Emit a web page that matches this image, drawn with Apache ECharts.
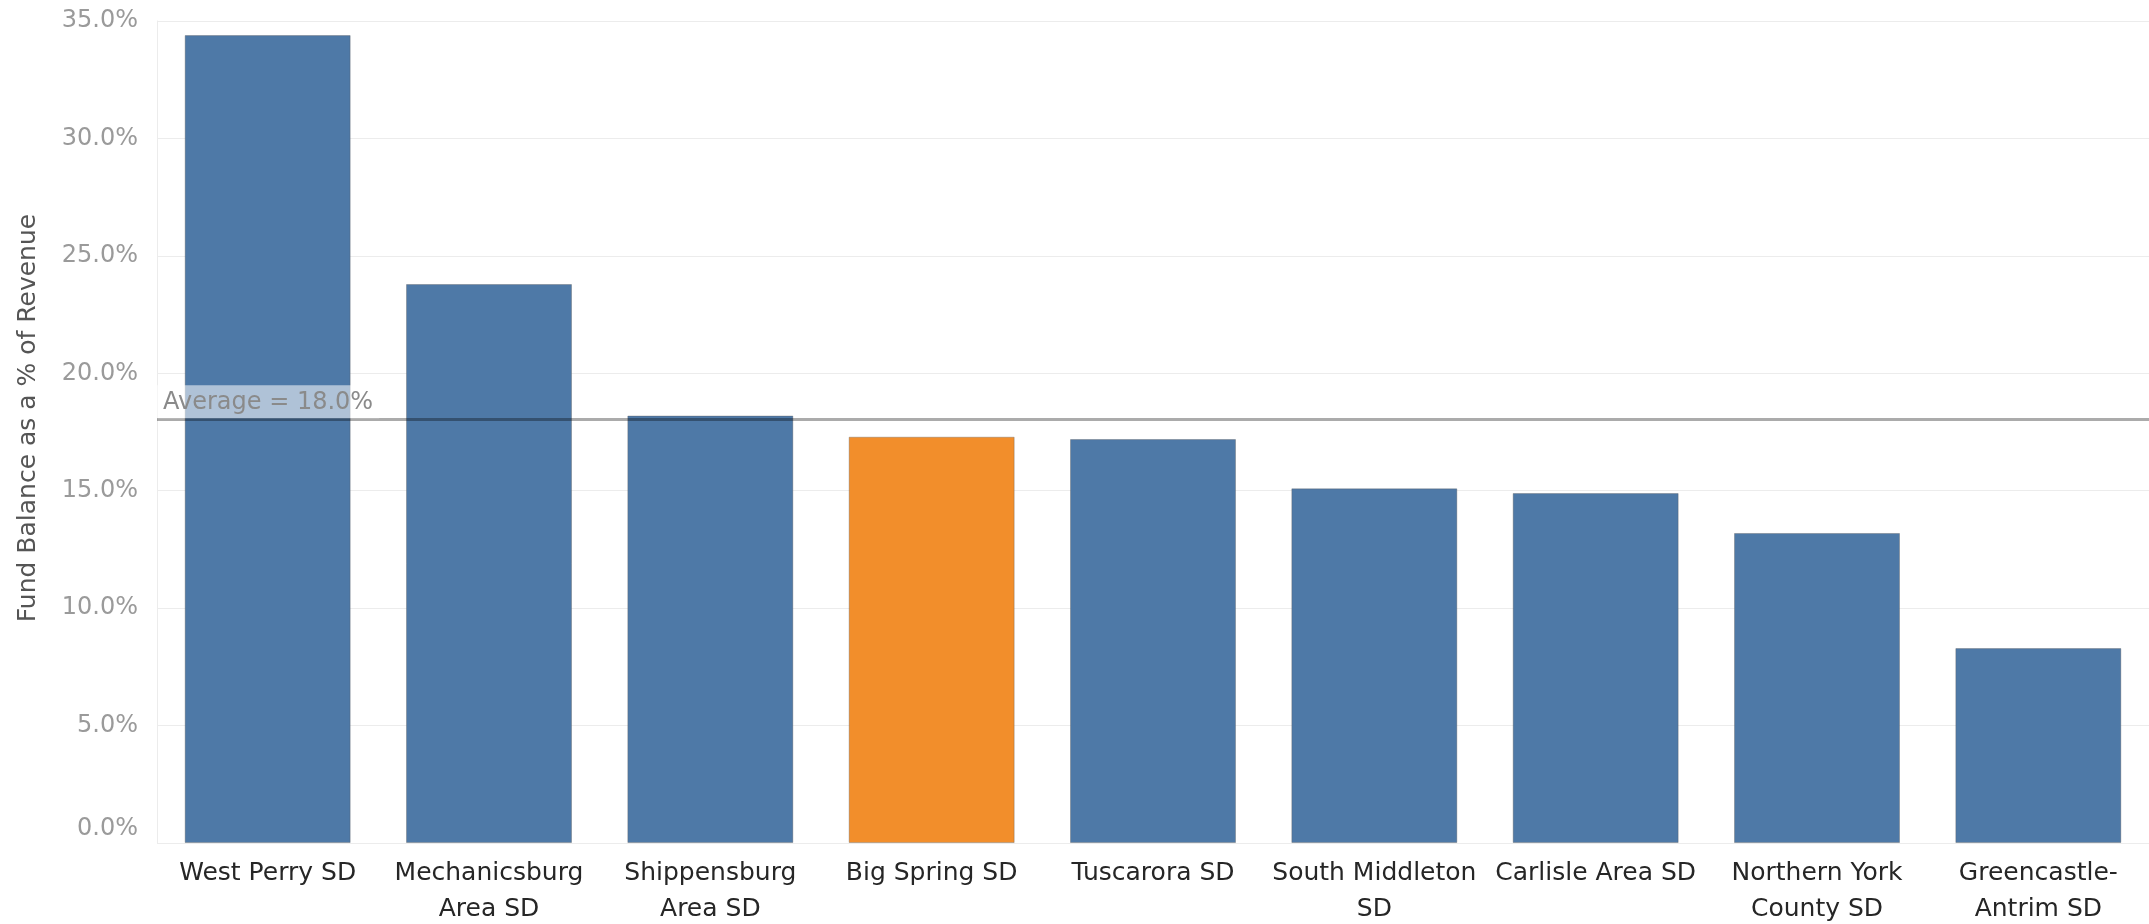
<!DOCTYPE html>
<html>
<head>
<meta charset="utf-8">
<script src="https://cdn.jsdelivr.net/npm/echarts@6/dist/echarts.min.js"></script>
<style>
html,body{margin:0;padding:0;background:#fff;}
#chart{width:2149px;height:924px;}
</style>
</head>
<body>
<div id="chart"></div>
<script>
const districts = ["West Perry SD","Mechanicsburg Area SD","Shippensburg Area SD","Big Spring SD","Tuscarora SD","South Middleton SD","Carlisle Area SD","Northern York County SD","Greencastle-Antrim SD"];
const tickLabels = ["West Perry SD","Mechanicsburg\nArea SD","Shippensburg\nArea SD","Big Spring SD","Tuscarora SD","South Middleton\nSD","Carlisle Area SD","Northern York\nCounty SD","Greencastle-\nAntrim SD"];
const fundBalancePct = [34.4, 23.8, 18.2, 17.3, 17.2, 15.1, 14.9, 13.2, 8.3];
const highlighted = "Big Spring SD";
const yTicks = [0, 5, 10, 15, 20, 25, 30, 35];

const FONT = "DejaVu Sans";
const chart = echarts.init(document.getElementById('chart'), null, {renderer: 'canvas'});
chart.setOption({
  animation: false,
  grid: {left: 157, right: 0, top: 21, bottom: 81, containLabel: false, outerBoundsMode: 'none'},
  xAxis: {
    type: 'category',
    data: districts,
    axisLine: {show: false},
    axisTick: {show: false},
    axisLabel: {
      interval: 0,
      margin: 12,
      color: '#262626',
      fontFamily: FONT,
      fontSize: 25,
      lineHeight: 36,
      formatter: (v, i) => tickLabels[i]
    }
  },
  yAxis: {
    type: 'value',
    min: yTicks[0],
    max: yTicks[yTicks.length - 1],
    interval: 5,
    name: 'Fund Balance as a % of Revenue',
    nameLocation: 'middle',
    nameGap: 116,
    nameTextStyle: {color: '#555', fontFamily: FONT, fontSize: 25, padding: [0, 0, 0, 28]},
    axisLine: {show: true, lineStyle: {color: '#ececec', width: 1}},
    axisTick: {show: false},
    splitLine: {lineStyle: {color: '#ececec', width: 1}},
    axisLabel: {
      margin: 19,
      color: '#9a9a9a',
      fontFamily: FONT,
      fontSize: 24,
      formatter: v => v === 0 ? '{z|' + v.toFixed(1) + '%}' : v.toFixed(1) + '%',
      rich: {z: {color: '#9a9a9a', fontFamily: FONT, fontSize: 24, padding: [0, 0, 28, 0]}}
    }
  },
  series: [{
    type: 'bar',
    barCategoryGap: '25%',
    data: fundBalancePct.map((v, i) => ({
      value: v,
      itemStyle: {color: districts[i] === highlighted ? '#f28e2b' : '#4e79a7'}
    })),
    itemStyle: {borderColor: 'rgba(90,90,90,0.35)', borderWidth: 1},
    markLine: {
      silent: true,
      symbol: ['none', 'none'],
      data: [{type: 'average'}],
      lineStyle: {color: 'rgba(0,0,0,0.33)', width: 3, type: 'solid'},
      label: {
        position: 'insideStartTop',
        distance: [0, 1],
        formatter: p => 'Average = ' + p.value.toFixed(1) + '%',
        color: '#8a8a8a',
        fontFamily: FONT,
        fontSize: 24,
        backgroundColor: 'rgba(255,255,255,0.55)',
        padding: [5, 6, 4, 6]
      }
    }
  }]
});
</script>
</body>
</html>
